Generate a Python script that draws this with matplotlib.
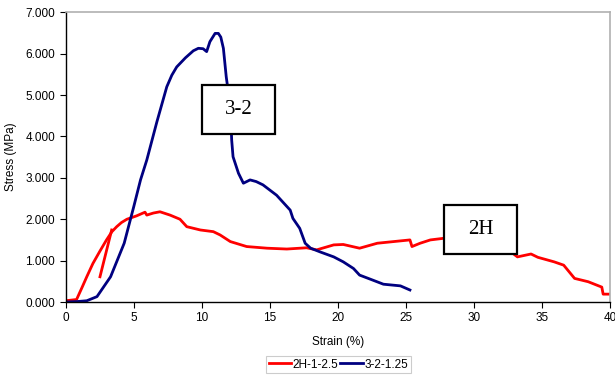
import numpy as np
import matplotlib.pyplot as plt
from matplotlib.ticker import FormatStrFormatter

plt.rcParams['font.family'] = ['Liberation Sans', 'DejaVu Sans']

# 2H-1-2.5 (red), main curve
strain_2h = [0.0, 0.8, 1.2, 1.55, 2.0, 2.5, 3.0, 3.4, 3.75, 4.1, 4.5, 5.2, 5.83, 5.96, 6.45,
             6.93, 7.67, 8.4, 8.9, 9.9, 10.85, 11.35, 12.1, 13.3, 14.8, 16.25, 17.7, 18.45,
             19.7, 20.4, 21.6, 22.9, 24.1, 25.3, 25.45, 26.05, 26.8, 27.8, 29.5, 31.5, 32.6,
             33.0, 33.2, 34.2, 34.7, 35.9, 36.6, 37.4, 38.4, 39.4, 39.5, 40.1]
stress_2h = [0.03, 0.06, 0.35, 0.61, 0.93, 1.22, 1.50, 1.70, 1.82, 1.92, 2.00, 2.08, 2.17, 2.10,
             2.15, 2.18, 2.10, 2.00, 1.82, 1.74, 1.70, 1.62, 1.46, 1.34, 1.30, 1.28, 1.31, 1.26,
             1.38, 1.39, 1.30, 1.42, 1.46, 1.50, 1.34, 1.42, 1.50, 1.54, 1.58, 1.45, 1.25,
             1.14, 1.09, 1.16, 1.08, 0.97, 0.89, 0.57, 0.49, 0.36, 0.19, 0.19]

# 2H-1-2.5, short reloading segment
strain_2h_b = [2.52, 3.38]
stress_2h_b = [0.61, 1.74]

# 3-2-1.25 (navy)
strain_32 = [0.0, 0.8, 1.55, 2.3, 3.3, 4.3, 5.0, 5.5, 5.96, 6.7, 7.43, 7.8, 8.16, 8.8, 9.38,
             9.75, 10.1, 10.36, 10.6, 10.98, 11.22, 11.4, 11.59, 11.8, 12.1, 12.2, 12.3,
             12.7, 13.06, 13.55, 14.0, 14.5, 15.5, 16.5, 16.7, 17.2, 17.6, 18.0, 18.7, 19.7,
             20.4, 21.15, 21.6, 22.4, 23.35, 24.6, 25.3]
stress_32 = [0.0, 0.01, 0.03, 0.13, 0.61, 1.42, 2.3, 2.95, 3.43, 4.35, 5.2, 5.48, 5.68, 5.9,
             6.07, 6.13, 6.12, 6.05, 6.29, 6.49, 6.49, 6.4, 6.13, 5.44, 4.72, 3.91, 3.51,
             3.11, 2.87, 2.95, 2.91, 2.83, 2.58, 2.22, 2.02, 1.78, 1.42, 1.30, 1.21, 1.09,
             0.97, 0.81, 0.65, 0.55, 0.43, 0.39, 0.29]

fig = plt.figure(figsize=(6.15, 3.76), dpi=100)
ax = fig.add_axes([0.1068, 0.1968, 0.885, 0.7705])

red = '#ff0000'
navy = '#000080'
ax.plot(strain_2h, stress_2h, color=red, lw=2.0, label='2H-1-2.5')
ax.plot(strain_2h_b, stress_2h_b, color=red, lw=2.0)
ax.plot(strain_32, stress_32, color=navy, lw=2.0, label='3-2-1.25')

ax.set_xlim(0, 40)
ax.set_ylim(0, 7)
ax.set_xticks(np.arange(0, 41, 5))
ax.set_yticks(np.arange(0, 8, 1))
ax.yaxis.set_major_formatter(FormatStrFormatter('%.3f'))
ax.tick_params(labelsize=8.5, length=4, width=0.8, colors='black')
for s in ['top', 'right']:
    ax.spines[s].set_color('#b0b0b0')
    ax.spines[s].set_linewidth(1.2)
for s in ['left', 'bottom']:
    ax.spines[s].set_color('black')
    ax.spines[s].set_linewidth(1.0)

ax.set_xlabel('Strain (%)', fontsize=8.5, labelpad=8)
ax.set_ylabel('Stress (MPa)', fontsize=8.5, labelpad=6)

# annotation boxes
ax.add_patch(plt.Rectangle((10.0, 4.07), 5.4, 1.17, fc='white', ec='black', lw=1.6, zorder=5))
ax.text(12.7, 4.65, '3-2', fontsize=15, family='Liberation Serif', ha='center', va='center', zorder=6)
ax.add_patch(plt.Rectangle((27.8, 1.16), 5.4, 1.18, fc='white', ec='black', lw=1.6, zorder=5))
ax.text(30.5, 1.75, '2H', fontsize=15, family='Liberation Serif', ha='center', va='center', zorder=6)

leg = fig.legend(loc='center', bbox_to_anchor=(0.55, 0.0305), ncol=2, fontsize=8.5,
                 frameon=True, fancybox=False, handlelength=1.9, handletextpad=0.1,
                 columnspacing=0.2, borderpad=0.25)
leg.get_frame().set_edgecolor('#c0c0c0')
leg.get_frame().set_linewidth(0.8)

fig.savefig('out.png', dpi=100)
